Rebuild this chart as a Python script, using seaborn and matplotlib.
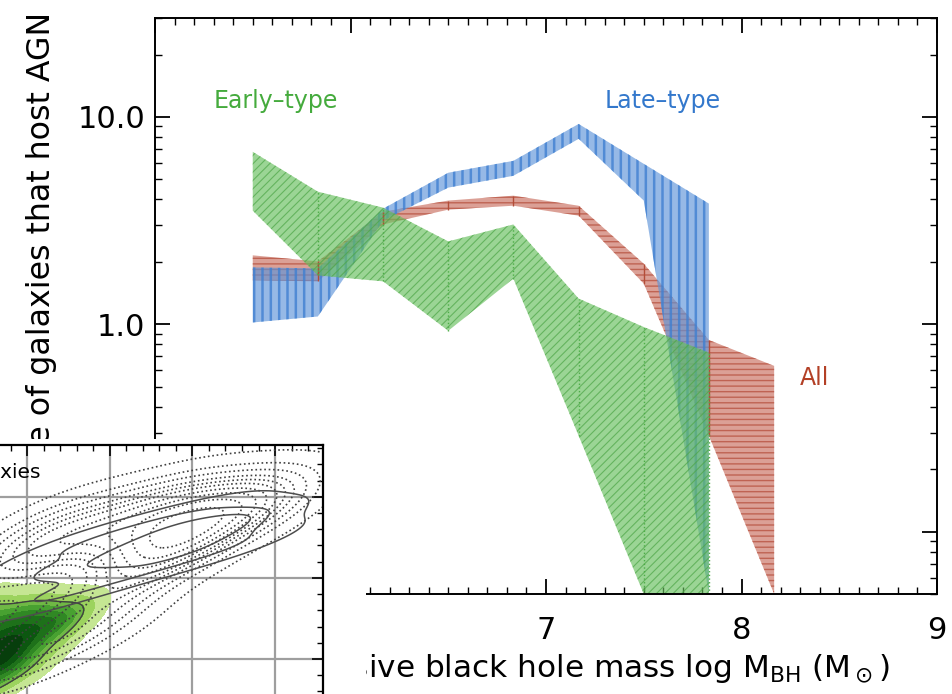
import matplotlib
matplotlib.use("Agg")
import matplotlib.pyplot as plt
import matplotlib.ticker as mticker
import seaborn as sns

# bins in log M_BH
mbh = [5.5, 5.833, 6.167, 6.5, 6.833, 7.167, 7.5, 7.833]
mbh_all = [5.5, 5.833, 6.167, 6.5, 6.833, 7.167, 7.5, 7.833, 8.167]

# AGN fraction (%) bands, lower / upper
early_lo = [3.53, 1.72, 1.61, 0.93, 1.66, 0.29, 0.05, 0.05]
early_hi = [6.79, 4.36, 3.65, 2.51, 3.03, 1.33, 0.97, 0.73]
late_lo = [1.02, 1.09, 3.16, 4.56, 5.20, 7.84, 3.95, 0.05]
late_hi = [1.88, 1.86, 3.61, 5.38, 6.14, 9.25, 5.94, 3.82]
all_lo = [1.63, 1.61, 3.03, 3.57, 3.73, 3.34, 1.57, 0.29, 0.05]
all_hi = [2.15, 2.01, 3.49, 3.95, 4.17, 3.73, 1.96, 0.84, 0.63]

# points for the overlapping neighbour panel
solid_x = [0.7, 0.7, 1.1, 1.1, 1.1, 1.5, 1.5, 1.5, 1.9, 1.9, 1.9, 2.3, 2.3, 2.3, 2.7, 2.7, 2.7,
           3.1, 3.1, 3.1, 3.5, 3.5, 3.5, 3.9, 3.9, 2.5, 2.8, 3.0, 2.6, 3.2]
solid_y = [1.6, 1.95, 1.7, 1.95, 2.2, 1.82, 2.1, 2.38, 1.95, 2.22, 2.5, 2.06, 2.33, 2.6, 2.18, 2.45, 2.72,
           2.3, 2.56, 2.82, 2.4, 2.64, 2.88, 2.55, 2.82, 2.4, 2.45, 2.55, 2.35, 2.6]
dot_x = [0.8, 1.2, 1.6, 2.0, 2.4, 2.8, 3.2, 3.6, 4.0, 1.0, 1.6, 2.2, 2.6, 3.0, 3.4, 3.8,
         1.8, 2.2, 2.6, 3.0, 1.4, 2.0, 0.8, 1.2, 2.7, 2.9, 3.1, 2.5]
dot_y = [2.2, 2.35, 2.45, 2.55, 2.6, 2.7, 2.75, 2.85, 2.9, 2.5, 2.7, 2.8, 2.9, 2.95, 2.95, 2.95,
         1.8, 2.0, 2.2, 2.35, 1.3, 1.5, 1.0, 1.2, 2.5, 2.55, 2.6, 2.45]
green_x = [0.1, 0.3, 0.5, 0.7, 0.9, 1.1, 1.3, 1.5, 1.7, 0.2, 0.4, 0.6, 0.8, 1.0, 1.2,
           0.3, 0.5, 0.7, 0.9, 1.1, 0.6, 0.8, 0.4, 1.4, 0.0, 0.2, 0.3, 0.6]
green_y = [0.7, 0.85, 1.0, 1.1, 1.25, 1.35, 1.45, 1.55, 1.65, 1.1, 1.3, 1.4, 1.5, 1.6, 1.65,
           0.5, 0.65, 0.8, 0.9, 1.0, 1.05, 1.15, 0.95, 1.3, 1.0, 1.4, 1.6, 1.7]

sns.set_theme(style="ticks")
plt.rcParams['font.family'] = ['DejaVu Sans']
plt.rcParams['axes.linewidth'] = 1.4
plt.rcParams['text.color'] = 'black'
plt.rcParams['axes.labelcolor'] = 'black'
plt.rcParams['xtick.color'] = 'black'
plt.rcParams['ytick.color'] = 'black'

W, H = 952, 694
fig = plt.figure(figsize=(W / 100, H / 100), dpi=100)
fig.patch.set_facecolor("white")

def px(x0, y0, x1, y1):
    return [x0 / W, 1 - y1 / H, (x1 - x0) / W, (y1 - y0) / H]

ax = fig.add_axes(px(155, 18, 937, 594))
ax.set_facecolor("white")


def band(x, lo, hi, face, hatchc, hatch, hlw):
    plt.rcParams['hatch.linewidth'] = hlw
    pc = ax.fill_between(x, lo, hi, facecolor=face, edgecolor=hatchc,
                         hatch=hatch, linewidth=0)
    try:
        pc.set_hatch_linewidth(hlw)
    except AttributeError:
        pass
    return pc


band(mbh_all, all_lo, all_hi, (0.79, 0.43, 0.37, 0.65), (0.72, 0.33, 0.26, 0.8), '---', 1.0)
ax.vlines(mbh_all[1:-1], all_lo[1:-1], all_hi[1:-1], color=(0.7, 0.3, 0.22), lw=1)
band(mbh, late_lo, late_hi, (0.37, 0.58, 0.85, 0.65), (0.25, 0.5, 0.82, 0.8), '||', 1.8)
band(mbh, early_lo, early_hi, (0.40, 0.75, 0.36, 0.65), (0.30, 0.65, 0.28, 0.7), '////', 0.8)
ax.vlines(mbh[1:], early_lo[1:], early_hi[1:], color=(0.3, 0.68, 0.28), lw=1, linestyles=':')

ax.set_yscale("log")
ax.set_xlim(5, 9)
ax.set_ylim(0.05, 30)
ax.xaxis.set_major_locator(mticker.MultipleLocator(1))
ax.xaxis.set_minor_locator(mticker.MultipleLocator(0.1))
ax.yaxis.set_major_locator(mticker.FixedLocator([0.1, 1, 10]))
ax.yaxis.set_minor_locator(mticker.LogLocator(subs=range(2, 10)))
ax.yaxis.set_major_formatter(mticker.FuncFormatter(lambda v, p: f"{v:.1f}"))
ax.yaxis.set_minor_formatter(mticker.NullFormatter())
ax.tick_params(which="both", direction="in", top=True, right=True, colors="black", labelsize=22)
ax.tick_params(which="major", length=11, width=1.3)
ax.tick_params(which="minor", length=5, width=1.0)
ax.tick_params(axis="x", pad=16)
ax.tick_params(axis="y", pad=7)
for s in ax.spines.values():
    s.set_color("black")

ax.set_xlabel(r"Supermassive black hole mass log M$_{\rm BH}$ (M$_\odot$)",
              fontsize=22.4, ha="right", va="baseline")
ax.xaxis.set_label_coords(0.940, -0.144)
ax.set_ylabel("Percentage of galaxies that host AGN", fontsize=22.8, ha="right", va="baseline")
ax.yaxis.set_label_coords(-0.134, 1.0104)

ax.text(5.30, 11.95, "Early–type", color=(0.27, 0.67, 0.24), fontsize=17, va="center")
ax.text(7.30, 11.95, "Late–type", color=(0.2, 0.47, 0.8), fontsize=17, va="center")
ax.text(8.30, 0.55, "All", color=(0.7, 0.25, 0.15), fontsize=17, va="center")

# white block of the neighbouring panel
cover = fig.add_axes(px(0, 439, 366, 694))
cover.set_facecolor("white")
cover.set_xticks([])
cover.set_yticks([])
for s in cover.spines.values():
    s.set_visible(False)

axi = fig.add_axes(px(-55.5, 445, 323, 740))
axi.set_facecolor("white")
axi.set_axisbelow(True)
axi.grid(True, which="major", color="0.62", lw=1.6)
greens = sns.blend_palette(["#dcf0b0", "#9ad25c", "#3f9b2c", "#0d5a10", "#04300a"], as_cmap=True)
sns.kdeplot(x=green_x, y=green_y, fill=True, cmap=greens, levels=9, thresh=0.06, ax=axi)
sns.kdeplot(x=green_x, y=green_y, levels=[0.3], color="0.25", linewidths=1.0, ax=axi)
sns.kdeplot(x=dot_x, y=dot_y, levels=[0.04, 0.12, 0.2, 0.3, 0.4, 0.5, 0.6, 0.7, 0.8, 0.9],
            color="0.25", linewidths=1.2, linestyles=":", ax=axi)
sns.kdeplot(x=solid_x, y=solid_y, levels=[0.1, 0.4, 0.7], color="0.3",
            linewidths=1.1, ax=axi)
axi.set_xlim(0, 4.58)
axi.set_ylim(0, 3.64)
axi.xaxis.set_major_locator(mticker.MultipleLocator(1))
axi.xaxis.set_minor_locator(mticker.MultipleLocator(0.2))
axi.yaxis.set_major_locator(mticker.MultipleLocator(1))
axi.yaxis.set_minor_locator(mticker.MultipleLocator(0.2))
axi.tick_params(which="both", direction="in", top=True, right=True,
                labelleft=False, labelbottom=False, colors="black")
axi.tick_params(which="major", length=8, width=1.2)
axi.tick_params(which="minor", length=4, width=1.0)
axi.set_xlabel("")
axi.set_ylabel("")
for s in axi.spines.values():
    s.set_color("black")
    s.set_linewidth(1.6)
fig.text(40 / W, 1 - 478 / H, "All galaxies", fontsize=14.5, ha="right", va="baseline")

fig.savefig("out.png", dpi=100)
